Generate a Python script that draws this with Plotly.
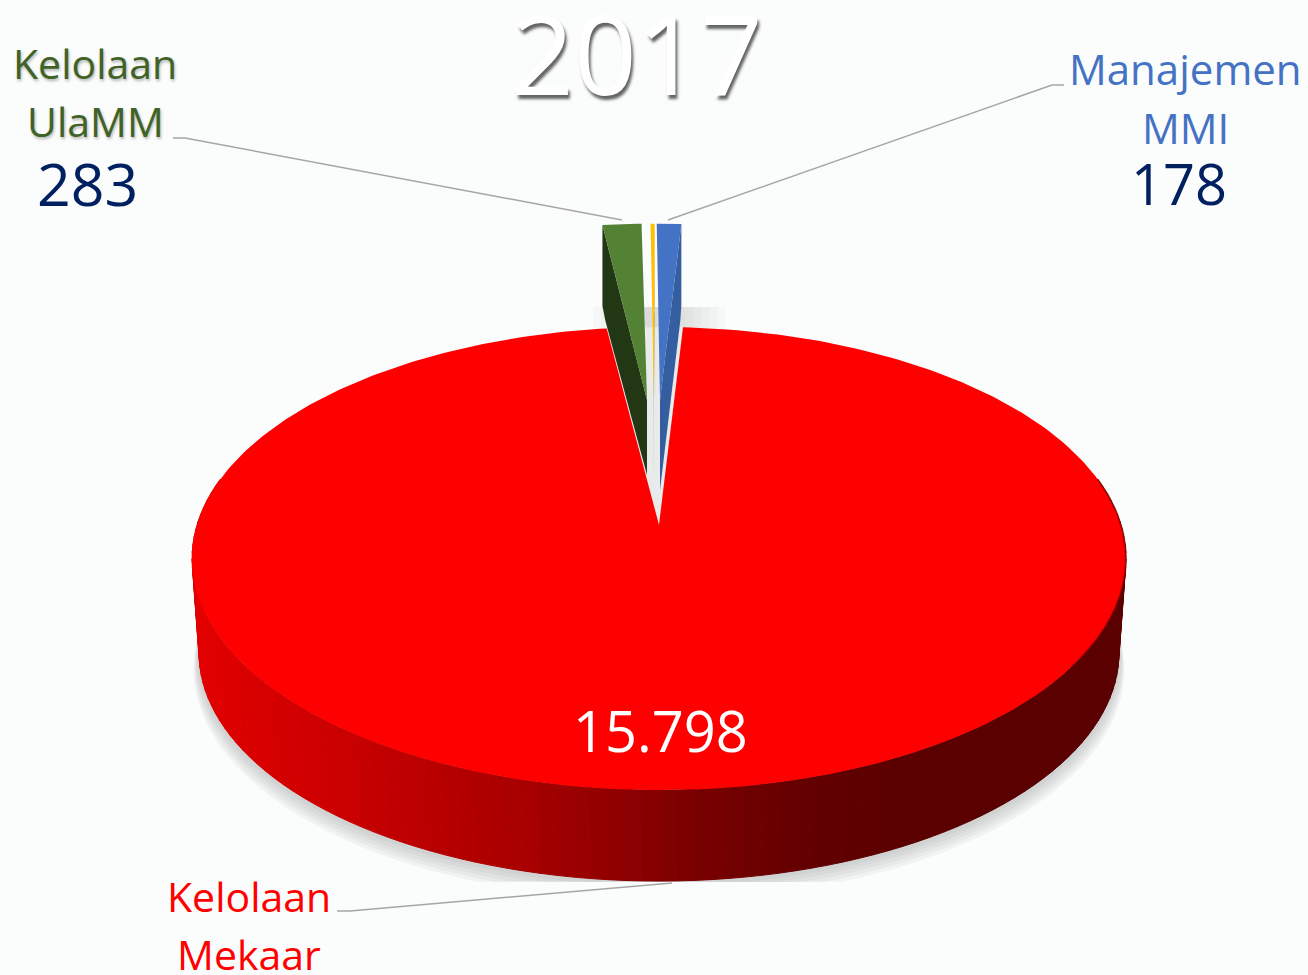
import math
import plotly.graph_objects as go

# ---- data ----
categories = ["Kelolaan Mekaar", "Kelolaan UlaMM", "Lainnya", "Manajemen MMI"]
values = [15798, 283, 30, 178]
slice_colors = ["#ff0000", "#548235", "#ffc000", "#4472c4"]
wall_colors = ["#8b0000", "#223814", "#6b5a20", "#345ea0"]

year_label = "2017"

# ---- geometry of the projected pie (style, not data) ----
CX = 659
Y0 = 525
R = 462
A = 226.7
K = 0.1447
DEPTH_Y0 = 620
DEPTH_SCALE = 0.985
EXPL_SCALE = 0.89
EXPL_Y0 = 400
EXPL_WALL = 81
START_DEG = 3.41


def project(theta_deg, cx=CX, y0=Y0, scale=1.0):
    t = math.radians(theta_deg)
    d = 1 + K * math.cos(t)
    return cx + scale * R * math.sin(t) / d, y0 - scale * A * math.cos(t) / d


total = sum(values)
spans = [v / total * 360 for v in values]
angles = []
a = START_DEG
for s in spans:
    angles.append((a, a + s))
    a += s


def arc(a0, a1, n, **kw):
    pts = [project(a0 + (a1 - a0) * i / n, **kw) for i in range(n + 1)]
    return [p[0] for p in pts], [p[1] for p in pts]


def lerp_color(x):
    stops = [(195, 226), (350, 200), (520, 168), (600, 148), (700, 120), (800, 100), (900, 90), (1130, 90)]
    for (x0, c0), (x1, c1) in zip(stops, stops[1:]):
        if x <= x1:
            f = max(0, (x - x0) / (x1 - x0))
            return f"rgb({round(c0 + (c1 - c0) * f)},0,0)"
    return f"rgb({stops[-1][1]},0,0)"


fig = go.Figure()


def poly(xs, ys, color, line=None, width=0):
    fig.add_trace(go.Scatter(x=xs, y=ys, mode="lines", fill="toself", fillcolor=color,
                             line=dict(color=line or color, width=width),
                             hoverinfo="skip", showlegend=False))


# soft shadow under the disc, falling downwards
for grow, dy in [(1.012, 16), (1.01, 13), (1.008, 10), (1.006, 7), (1.003, 4)]:
    xs, ys = arc(0, 360, 180, y0=DEPTH_Y0 + dy, scale=DEPTH_SCALE * grow)
    poly(xs, [min(y, 882) for y in ys], "rgba(140,145,145,0.09)")

# shadow band and gap behind the small slices
for half in range(66, 10, -8):
    poly([CX - half, CX + half, CX + half, CX - half],
         [307, 307, 335, 335], "rgba(120,125,125,0.035)")
xs, ys = arc(angles[1][0], angles[3][1], 6)
poly([CX] + xs + [CX], [Y0] + ys + [Y0], "#e9eaea")

# side wall of the large slice, one strip per step of the rim
STEPS = 110
for i in range(STEPS):
    a0 = 78 + (282 - 78) * i / STEPS
    a1 = 78 + (282 - 78) * (i + 1) / STEPS
    p0 = project(a0)
    p1 = project(a1)
    q0 = project(a0, y0=DEPTH_Y0, scale=DEPTH_SCALE)
    q1 = project(a1, y0=DEPTH_Y0, scale=DEPTH_SCALE)
    c = lerp_color((p0[0] + p1[0]) / 2)
    poly([p0[0], p1[0], q1[0], q0[0], p0[0]], [p0[1], p1[1], q1[1], q0[1], p0[1]], c, width=1)

# exploded small slices: rim centre x and apex x for each
RIM_X = {1: 649, 2: 658, 3: 660}
APEX_X = {1: 647, 2: 654, 3: 660}
WALL_APEX = {1: 475, 2: 485, 3: 490}
for idx in (1, 2, 3):
    a0, a1 = angles[idx]
    xs, ys = arc(a0, a1, 8, cx=RIM_X[idx], y0=EXPL_Y0, scale=EXPL_SCALE)
    ex, ey = (xs[0], ys[0]) if idx == 1 else (xs[-1], ys[-1])
    bend = 3 if idx == 1 else -1
    poly([ex, ex, ex + bend, APEX_X[idx], APEX_X[idx], ex],
         [ey, ey + EXPL_WALL, ey + EXPL_WALL + 15, WALL_APEX[idx], EXPL_Y0, ey], wall_colors[idx])
    poly(xs + [APEX_X[idx]], ys + [EXPL_Y0], slice_colors[idx])

# top face of the large slice
a0, a1 = angles[0]
xs, ys = arc(a0, a1, 360)
poly([CX] + xs + [CX], [Y0] + ys + [Y0], slice_colors[0])
# darker rim on the shaded side
xs, ys = arc(78, 125, 50)
fig.add_trace(go.Scatter(x=xs, y=ys, mode="lines", line=dict(color="rgba(110,0,0,0.45)", width=2),
                         hoverinfo="skip", showlegend=False))


def label(text, x, y, size, color, shadow=None, weight=None):
    f = dict(family="Open Sans, Noto Sans, sans-serif", size=size, color=color)
    if shadow:
        f["shadow"] = shadow
    if weight:
        f["weight"] = weight
    fig.add_annotation(x=x, y=y, text=text, showarrow=False, font=f,
                       xanchor="center", yanchor="middle")


def num(v):
    return f"{v:,}".replace(",", ".")


GLOW = "1px 2px 3px rgba(90,90,90,0.45)"
label("Kelolaan", 95, 63, 41, "#3f6226", GLOW)
label("UlaMM", 95, 121, 41, "#3f6226", GLOW)
label(num(values[1]), 87, 183, 59, "#002060")
label("Manajemen", 1185, 68, 42, "#4472c4")
label("MMI", 1185, 127, 42, "#4472c4")
label(num(values[3]), 1179, 183, 56, "#002060")
label("Kelolaan", 249, 896, 41, "#ff0000")
label("Mekaar", 249, 954, 41, "#ff0000")
label(num(values[0]), 660, 730, 56, "#ffffff")
label(year_label, 637, 52, 110, "#ffffff", "2px 4px 3px rgba(60,60,60,0.8)", 400)

# leader lines
LINE = dict(color="#a6a6a6", width=1.5)
for xs, ys in [([173, 185, 622], [138, 138, 220]),
               ([668, 1052, 1064], [220, 85, 85]),
               ([672, 350, 337], [883, 911, 911])]:
    fig.add_shape(type="path", path="M" + " L".join(f"{x},{y}" for x, y in zip(xs, ys)),
                  line=LINE, layer="above")

fig.update_layout(
    width=1308, height=975, margin=dict(l=0, r=0, t=0, b=0),
    paper_bgcolor="#fbfcfc", plot_bgcolor="rgba(0,0,0,0)", showlegend=False,
    xaxis=dict(range=[0, 1308], visible=False, fixedrange=True),
    yaxis=dict(range=[975, 0], visible=False, fixedrange=True),
)
fig.write_html("out.html", config=dict(displayModeBar=False),
               post_script="document.body.style.margin='0';")
